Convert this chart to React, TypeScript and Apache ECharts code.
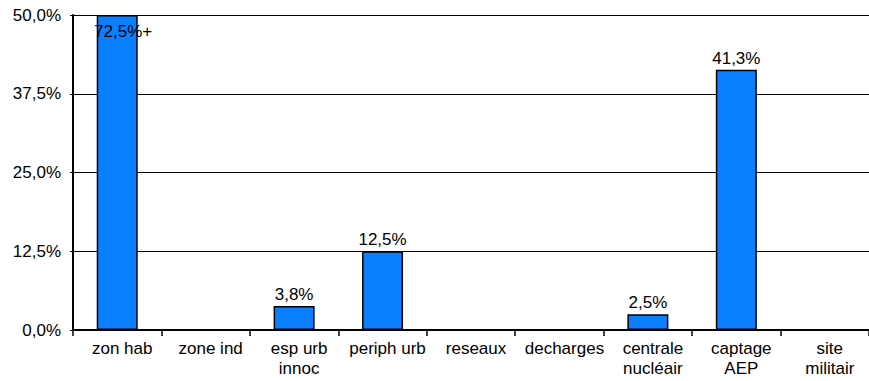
import React, { useEffect, useRef } from "react";
import * as echarts from "echarts";

const categories = [
  "zon hab",
  "zone ind",
  "esp urb\ninnoc",
  "periph urb",
  "reseaux",
  "decharges",
  "centrale\nnucléair",
  "captage\nAEP",
  "site\nmilitair",
];
const values = [72.5, 0, 3.8, 12.5, 0, 0, 2.5, 41.3, 0];
const yMax = 50;
const yInterval = 12.5;

const fmt = (v: number, d = 1) => v.toFixed(d).replace(".", ",") + "%";
const FONT = "Liberation Sans, Arial, sans-serif";

export default function App() {
  const ref = useRef<HTMLDivElement>(null);
  useEffect(() => {
    if (!ref.current) return;
    const chart = echarts.init(ref.current, null, { renderer: "svg" });
    const data = values.map((v) => {
      const over = v > yMax;
      return {
        value: over ? yMax : v,
        label: over
          ? { show: true, position: "insideTop", distance: 8, offset: [6, 0], formatter: fmt(v) + "+" }
          : { show: v > 0, position: "top", distance: 3, formatter: fmt(v) },
      };
    });
    chart.setOption({
      animation: false,
      grid: { left: 73, right: 0, top: 15, bottom: 51, containLabel: false },
      xAxis: {
        type: "category",
        data: categories,
        axisLine: { show: true, lineStyle: { color: "#000", width: 2 } },
        axisTick: { show: true, alignWithLabel: false, length: 6, lineStyle: { color: "#000", width: 1.5 }, interval: 0 },
        axisLabel: {
          interval: 0,
          color: "#000",
          fontSize: 17,
          fontFamily: FONT,
          lineHeight: 20,
          margin: 8,
          padding: [0, 0, 0, 10],
        },
      },
      yAxis: {
        type: "value",
        min: 0,
        max: yMax,
        interval: yInterval,
        axisLine: { show: true, lineStyle: { color: "#000", width: 2 } },
        axisTick: { show: true, length: 3, lineStyle: { color: "#000" } },
        splitLine: { show: true, lineStyle: { color: "#000", width: 1 } },
        axisLabel: {
          color: "#000",
          fontSize: 17,
          fontFamily: FONT,
          margin: 12,
          formatter: (v: number) => fmt(v),
        },
      },
      series: [
        {
          type: "bar",
          data,
          barWidth: 41,
          itemStyle: { color: "#0a7fff", borderColor: "#000", borderWidth: 1.5 },
          label: {
            color: "#000",
            fontSize: 17,
            fontFamily: FONT,
          },
        },
      ],
    });
    return () => chart.dispose();
  }, []);
  return (
    <div
      ref={ref}
      style={{ position: "fixed", left: 0, top: 0, width: 869, height: 381, background: "#fff" }}
    />
  );
}
